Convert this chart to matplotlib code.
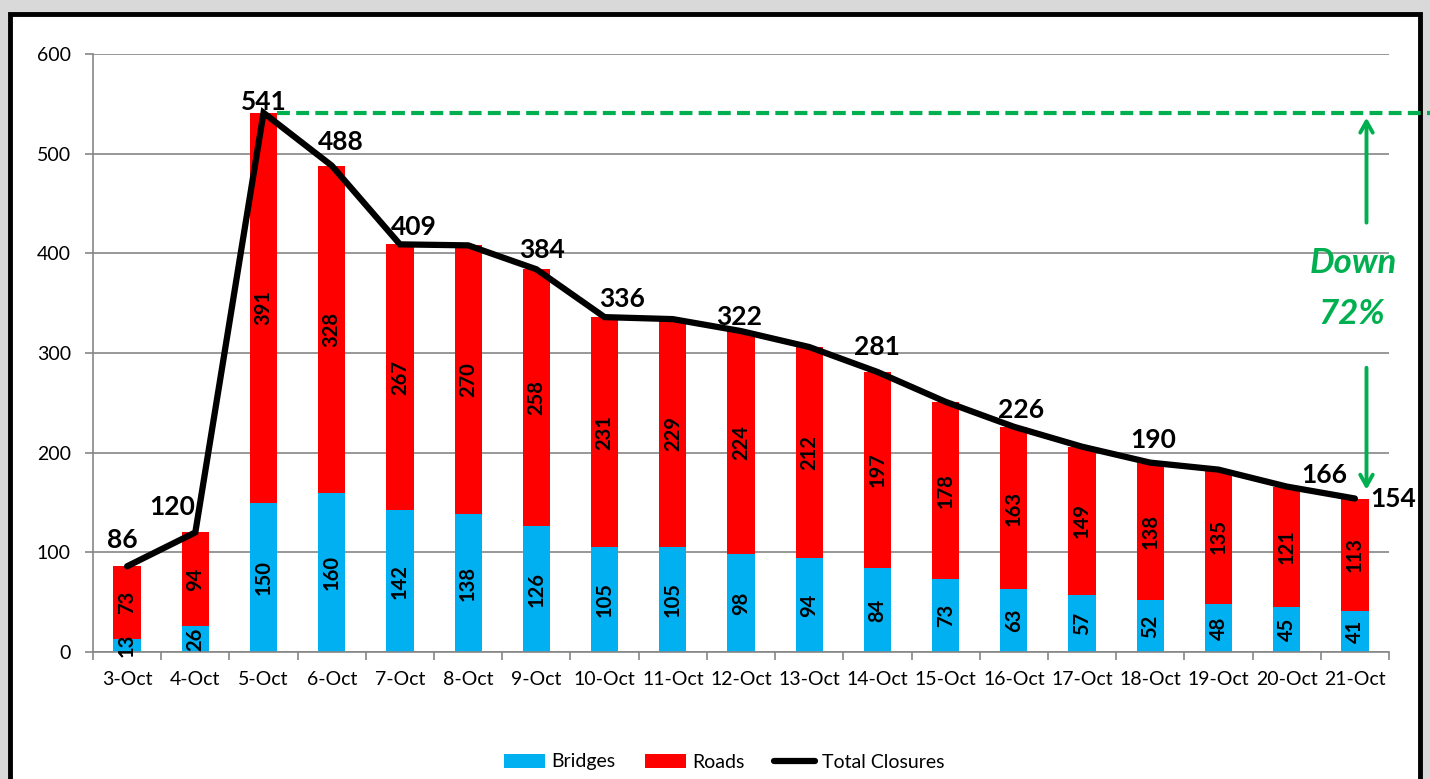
import matplotlib
matplotlib.use("Agg")
import matplotlib.pyplot as plt
from matplotlib.patches import Rectangle
import numpy as np

plt.rcParams['font.family'] = ['Lato', 'DejaVu Sans']

dates = ["3-Oct", "4-Oct", "5-Oct", "6-Oct", "7-Oct", "8-Oct", "9-Oct", "10-Oct", "11-Oct",
         "12-Oct", "13-Oct", "14-Oct", "15-Oct", "16-Oct", "17-Oct", "18-Oct", "19-Oct",
         "20-Oct", "21-Oct"]
bridges = [13, 26, 150, 160, 142, 138, 126, 105, 105, 98, 94, 84, 73, 63, 57, 52, 48, 45, 41]
roads = [73, 94, 391, 328, 267, 270, 258, 231, 229, 224, 212, 197, 178, 163, 149, 138, 135, 121, 113]
total = [b + r for b, r in zip(bridges, roads)]
# which totals carry a label
labelled_idx = [0, 1, 2, 3, 4, 6, 7, 9, 11, 13, 15, 17, 18]

BLUE = "#00b0f0"
RED = "#ff0000"
GREEN = "#00b050"

fig = plt.figure(figsize=(14.30, 7.79), dpi=100)
fig.patch.set_facecolor("#d9d9d9")
W, H = 1430, 779
fig.patches.append(Rectangle((10 / W, -0.05), 1410 / W, 1.05 - 14 / H,
                             transform=fig.transFigure, facecolor="white",
                             edgecolor="black", linewidth=3.5, zorder=-5))

ax = fig.add_axes([93 / W, 1 - 652 / H, (1389 - 93) / W, (652 - 54) / H])
ax.set_facecolor("none")
x = np.arange(len(dates))
hb = ax.bar(x, bridges, width=0.4, color=BLUE, zorder=2, label="Bridges")
hr = ax.bar(x, roads, width=0.4, bottom=bridges, color=RED, zorder=2, label="Roads")
hl, = ax.plot(x, total, color="black", linewidth=4.5, zorder=3, label="Total Closures",
              solid_capstyle="round", solid_joinstyle="miter")

for i in range(len(dates)):
    ax.text(x[i], bridges[i] / 2, str(bridges[i]), rotation=90, ha="center", va="center",
            fontsize=14.5, fontweight="bold", zorder=4)
    ax.text(x[i], bridges[i] + roads[i] / 2, str(roads[i]), rotation=90, ha="center",
            va="center", fontsize=14.5, fontweight="bold", zorder=4)

# label placement offsets in pixels (dx, dy) plus alignment
offsets = {0: (-5, 14, 'center', 'bottom'), 1: (-23, 13, 'center', 'bottom'),
           2: (0, -1, 'center', 'bottom'), 3: (9, 12, 'center', 'bottom'),
           4: (14, 5, 'center', 'bottom'), 6: (6, 7, 'center', 'bottom'),
           7: (17, 6, 'center', 'bottom'), 9: (-2, 2, 'center', 'bottom'),
           11: (0, 13, 'center', 'bottom'), 13: (7, 5, 'center', 'bottom'),
           15: (3, 11, 'center', 'bottom'), 17: (38, 0, 'center', 'bottom'),
           18: (15, 0, 'left', 'center')}
for i in labelled_idx:
    dx, dy, ha, va = offsets[i]
    ax.annotate(str(total[i]), (x[i], total[i]), xytext=(dx * 0.72, dy * 0.72),
                textcoords="offset points", ha=ha, va=va, fontsize=19, fontweight="bold",
                zorder=5)

ax.set_xlim(-0.5, len(dates) - 0.5)
ax.set_ylim(0, 600)
ax.set_yticks(range(0, 601, 100))
ax.set_xticks(x)
ax.set_xticklabels(dates)
ax.set_xticks(np.arange(-0.5, len(dates)), minor=True)
ax.tick_params(axis="x", which="major", length=0, labelsize=14, pad=14)
ax.tick_params(axis="x", which="minor", length=6, color="#868686", width=1.2)
ax.tick_params(axis="y", length=6, color="#868686", width=1.2, labelsize=14, pad=10)
ax.grid(axis="y", color="#868686", linewidth=1.2, zorder=0)
ax.set_axisbelow(True)
for s in ["top", "right"]:
    ax.spines[s].set_visible(False)
for s in ["left", "bottom"]:
    ax.spines[s].set_color("#868686")
    ax.spines[s].set_linewidth(1.2)

# dashed peak reference line
ax.plot([2.2, 19.15], [total[2], total[2]], color=GREEN, linestyle=(0, (3.1, 1.5)),
        linewidth=3, clip_on=False, zorder=4)
arr_x = 18.17
ax.annotate("", xy=(arr_x, total[2] - 2), xytext=(arr_x, 428),
            arrowprops=dict(arrowstyle="->,head_width=0.45,head_length=0.8", color=GREEN, lw=2.8),
            annotation_clip=False)
ax.annotate("", xy=(arr_x, total[18] + 6), xytext=(arr_x, 288),
            arrowprops=dict(arrowstyle="->,head_width=0.45,head_length=0.8", color=GREEN, lw=2.8),
            annotation_clip=False)
ax.text(17.97, 390, "Down", color=GREEN, fontsize=25, fontweight="bold", fontstyle="italic",
        ha="center", va="center")
ax.text(17.95, 339, "72%", color=GREEN, fontsize=25, fontweight="bold", fontstyle="italic",
        ha="center", va="center")

leg = fig.legend(handles=[hb, hr, hl], labels=["Bridges", "Roads", "Total Closures"],
                 loc="center", bbox_to_anchor=(724 / W, 1 - 762 / H), ncol=3, frameon=False,
                 fontsize=14, handlelength=2.1, handleheight=0.75, columnspacing=1.5,
                 handletextpad=0.35)

fig.savefig("out.png", dpi=100, facecolor=fig.get_facecolor())
